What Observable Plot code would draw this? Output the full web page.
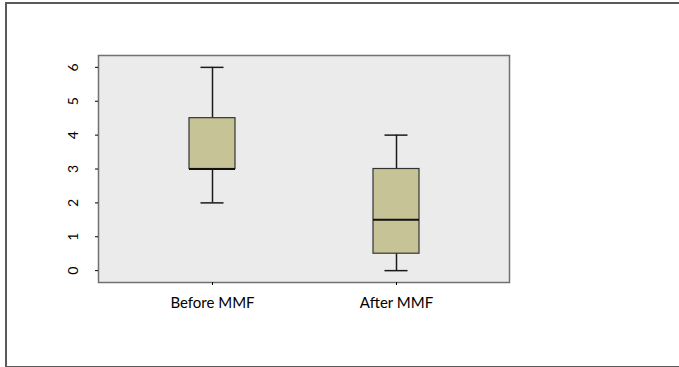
<!DOCTYPE html>
<html>
<head>
<meta charset="utf-8">
<script src="https://cdn.jsdelivr.net/npm/d3@7"></script>
<script src="https://cdn.jsdelivr.net/npm/@observablehq/plot@0.6"></script>
<style>
  html, body { margin: 0; padding: 0; background: #fff; overflow: hidden; }
  #wrap { position: relative; width: 679px; height: 367px; }
  #outer { position: absolute; left: 5px; top: 2px; width: 700px; height: 362px;
           border-left: 2px solid #5a5a5a; border-top: 2px solid #5a5a5a; border-bottom: 2px solid #5a5a5a; }
  #chart { position: absolute; left: 0; top: 0; }
</style>
</head>
<body>
<div id="wrap"><div id="outer"></div><div id="chart"></div></div>
<script>
const groups = ["Before MMF", "After MMF"];
const whiskerLow = [2, 0];
const q1 = [3, 0.5];
const median = [3, 1.5];
const q3 = [4.5, 3];
const whiskerHigh = [6, 4];
const yTicks = [0, 1, 2, 3, 4, 5, 6];

const stats = groups.map((g, i) => ({
  group: g, lo: whiskerLow[i], q1: q1[i], med: median[i], q3: q3[i], hi: whiskerHigh[i]
}));

const chart = Plot.plot({
  width: 679,
  height: 367,
  marginLeft: 98,
  marginRight: 170,
  marginTop: 55,
  marginBottom: 85,
  style: { fontFamily: "Lato, 'Liberation Sans', sans-serif", background: "transparent", color: "#000" },
  x: { type: "band", domain: groups, paddingInner: 0.7514, paddingOuter: 0.487, label: null },
  y: { domain: [-0.35, 6.35], label: null },
  marks: [
    Plot.frame({ fill: "#ebebeb", stroke: "#707070", strokeWidth: 1.5 }),
    Plot.ruleX(stats, { x: "group", y1: "lo", y2: "q1", stroke: "#1a1a1a", strokeWidth: 1.5 }),
    Plot.ruleX(stats, { x: "group", y1: "q3", y2: "hi", stroke: "#1a1a1a", strokeWidth: 1.5 }),
    Plot.tickY(stats, { x: "group", y: "lo", stroke: "#1a1a1a", strokeWidth: 1.5, insetLeft: 11.5, insetRight: 11.5 }),
    Plot.tickY(stats, { x: "group", y: "hi", stroke: "#1a1a1a", strokeWidth: 1.5, insetLeft: 11.5, insetRight: 11.5 }),
    Plot.barY(stats, { x: "group", y1: "q1", y2: "q3", fill: "#c6c496", stroke: "#333333", strokeWidth: 1.2 }),
    Plot.tickY(stats, { x: "group", y: "med", stroke: "#111111", strokeWidth: 2 }),
    Plot.axisY(yTicks, { tickSize: 3, tickPadding: 18, tickRotate: -90, fontSize: 14, stroke: "#000" }),
    Plot.axisX(groups, { tickSize: 3, tickPadding: 12, fontSize: 15, stroke: "#000" })
  ]
});
document.getElementById("chart").appendChild(chart);
</script>
</body>
</html>
